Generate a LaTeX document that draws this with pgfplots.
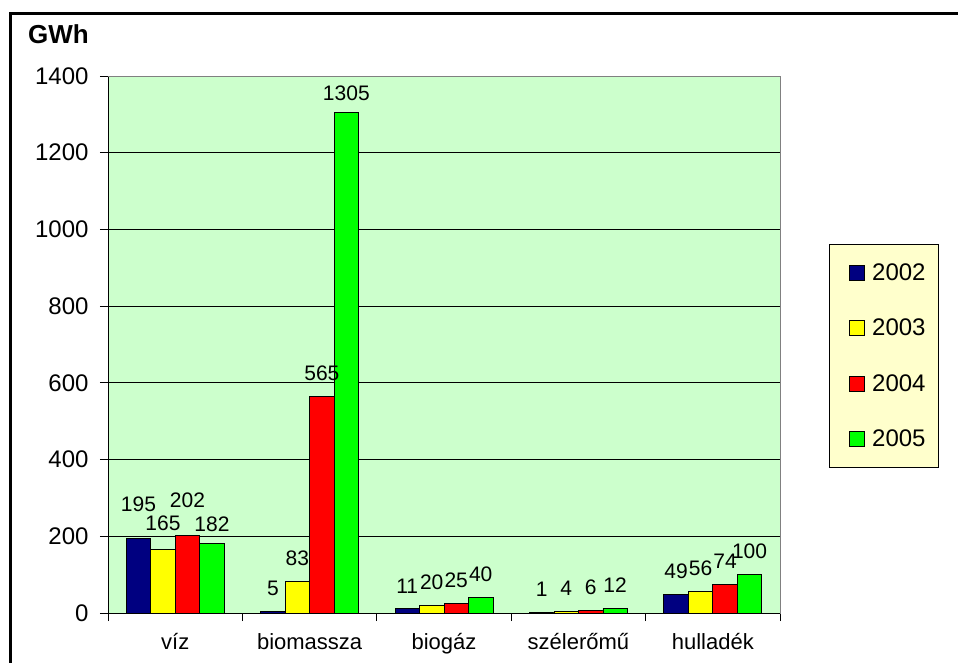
\documentclass[border=0pt]{standalone}
\usepackage{pgfplots}
\pgfplotsset{compat=1.18}
\usepackage{fontspec}
\setmainfont{Liberation Sans}

\definecolor{plotbg}{HTML}{CCFFCC}
\definecolor{legendbg}{HTML}{FFFFCC}
\definecolor{c2002}{HTML}{000080}
\definecolor{c2003}{HTML}{FFFF00}
\definecolor{c2004}{HTML}{FF0000}
\definecolor{c2005}{HTML}{00FF00}

% x = category index, y = GWh, dy = extra lift of the value label (pt)
\pgfplotstableread{
x y dy
0 195 11
1 5 0
2 11 0
3 1 0
4 49 0
}\dataA
\pgfplotstableread{
x y dy
0 165 3.5
1 83 0
2 20 0
3 4 0
4 56 0
}\dataB
\pgfplotstableread{
x y dy
0 202 12.5
1 565 0
2 25 0
3 6 0
4 74 0
}\dataC
\pgfplotstableread{
x y dy
0 182 -4
1 1305 -4
2 40 0
3 12 0
4 100 0
}\dataD

\begin{document}
\begin{tikzpicture}
% page area and outer frame
\useasboundingbox (-108pt,-49pt) rectangle (850pt,613pt);
\begin{scope}
\clip (-108pt,-49pt) rectangle (850pt,613pt);
\draw[line width=3pt] (-97.5pt,-80pt) -- (-97.5pt,599.5pt) -- (900pt,599.5pt);
\end{scope}
\node[font=\fontsize{26}{30}\selectfont\bfseries] at (-49.5pt,579pt) {GWh};

\begin{axis}[
  at={(0pt,0pt)}, anchor=south west,
  scale only axis, width=672pt, height=537pt,
  /pgf/number format/assume math mode=true,
  /pgf/number format/1000 sep={},
  ybar=0pt, bar width=24.5pt,
  xmin=-0.5, xmax=4.5, ymin=0, ymax=1400,
  ytick={0,200,...,1400},
  xtick={0,1,2,3,4},
  xticklabels={víz, biomassza, biogáz, szélerőmű, hulladék},
  minor xtick={-0.5,0.5,1.5,2.5,3.5,4.5},
  major x tick style={draw=none},
  tick align=outside,
  major tick length=8pt, minor tick length=8pt,
  tick style={black, line width=0.8pt},
  ymajorgrids, grid style={black, line width=0.8pt},
  axis background/.style={fill=plotbg},
  axis line style={gray, line width=0.8pt},
  ytick pos=left, xtick pos=bottom,
  yticklabel style={font=\fontsize{24}{28}\selectfont, xshift=-8pt},
  xticklabel style={font=\fontsize{22}{26}\selectfont, yshift=-9pt},
  nodes near coords,
  legend style={at={(1.073,0.687)}, anchor=north west,
    fill=legendbg, draw=black, line width=0.6pt,
    font=\fontsize{24}{28}\selectfont,
    inner xsep=13pt, inner ysep=19.5pt, row sep=37pt, column sep=7pt,
    nodes={inner sep=0pt}},
  legend cell align=left,
  legend image code/.code={%
    \path (0pt,0pt);
    \draw[#1, line width=0.8pt] (7pt,-7.5pt) rectangle (22pt,7.5pt);},
  every axis plot/.append style={draw=black, line width=0.8pt,
    visualization depends on={\thisrow{dy} \as \dy},
    nodes near coords style={font=\fontsize{21}{25}\selectfont,
      yshift=12pt+\dy pt}},
]
\addplot[fill=c2002] table[x=x, y=y] {\dataA};
\addplot[fill=c2003] table[x=x, y=y] {\dataB};
\addplot[fill=c2004] table[x=x, y=y] {\dataC};
\addplot[fill=c2005] table[x=x, y=y] {\dataD};
\legend{2002,2003,2004,2005}
\draw[black, line width=0.8pt] (rel axis cs:0,0) -- (rel axis cs:1,0);
\draw[black, line width=0.8pt] (rel axis cs:0,0) -- (rel axis cs:0,1);
\draw[gray, line width=0.8pt] (rel axis cs:0,1) -- (rel axis cs:1,1) -- (rel axis cs:1,0);
\end{axis}
\end{tikzpicture}
\end{document}
